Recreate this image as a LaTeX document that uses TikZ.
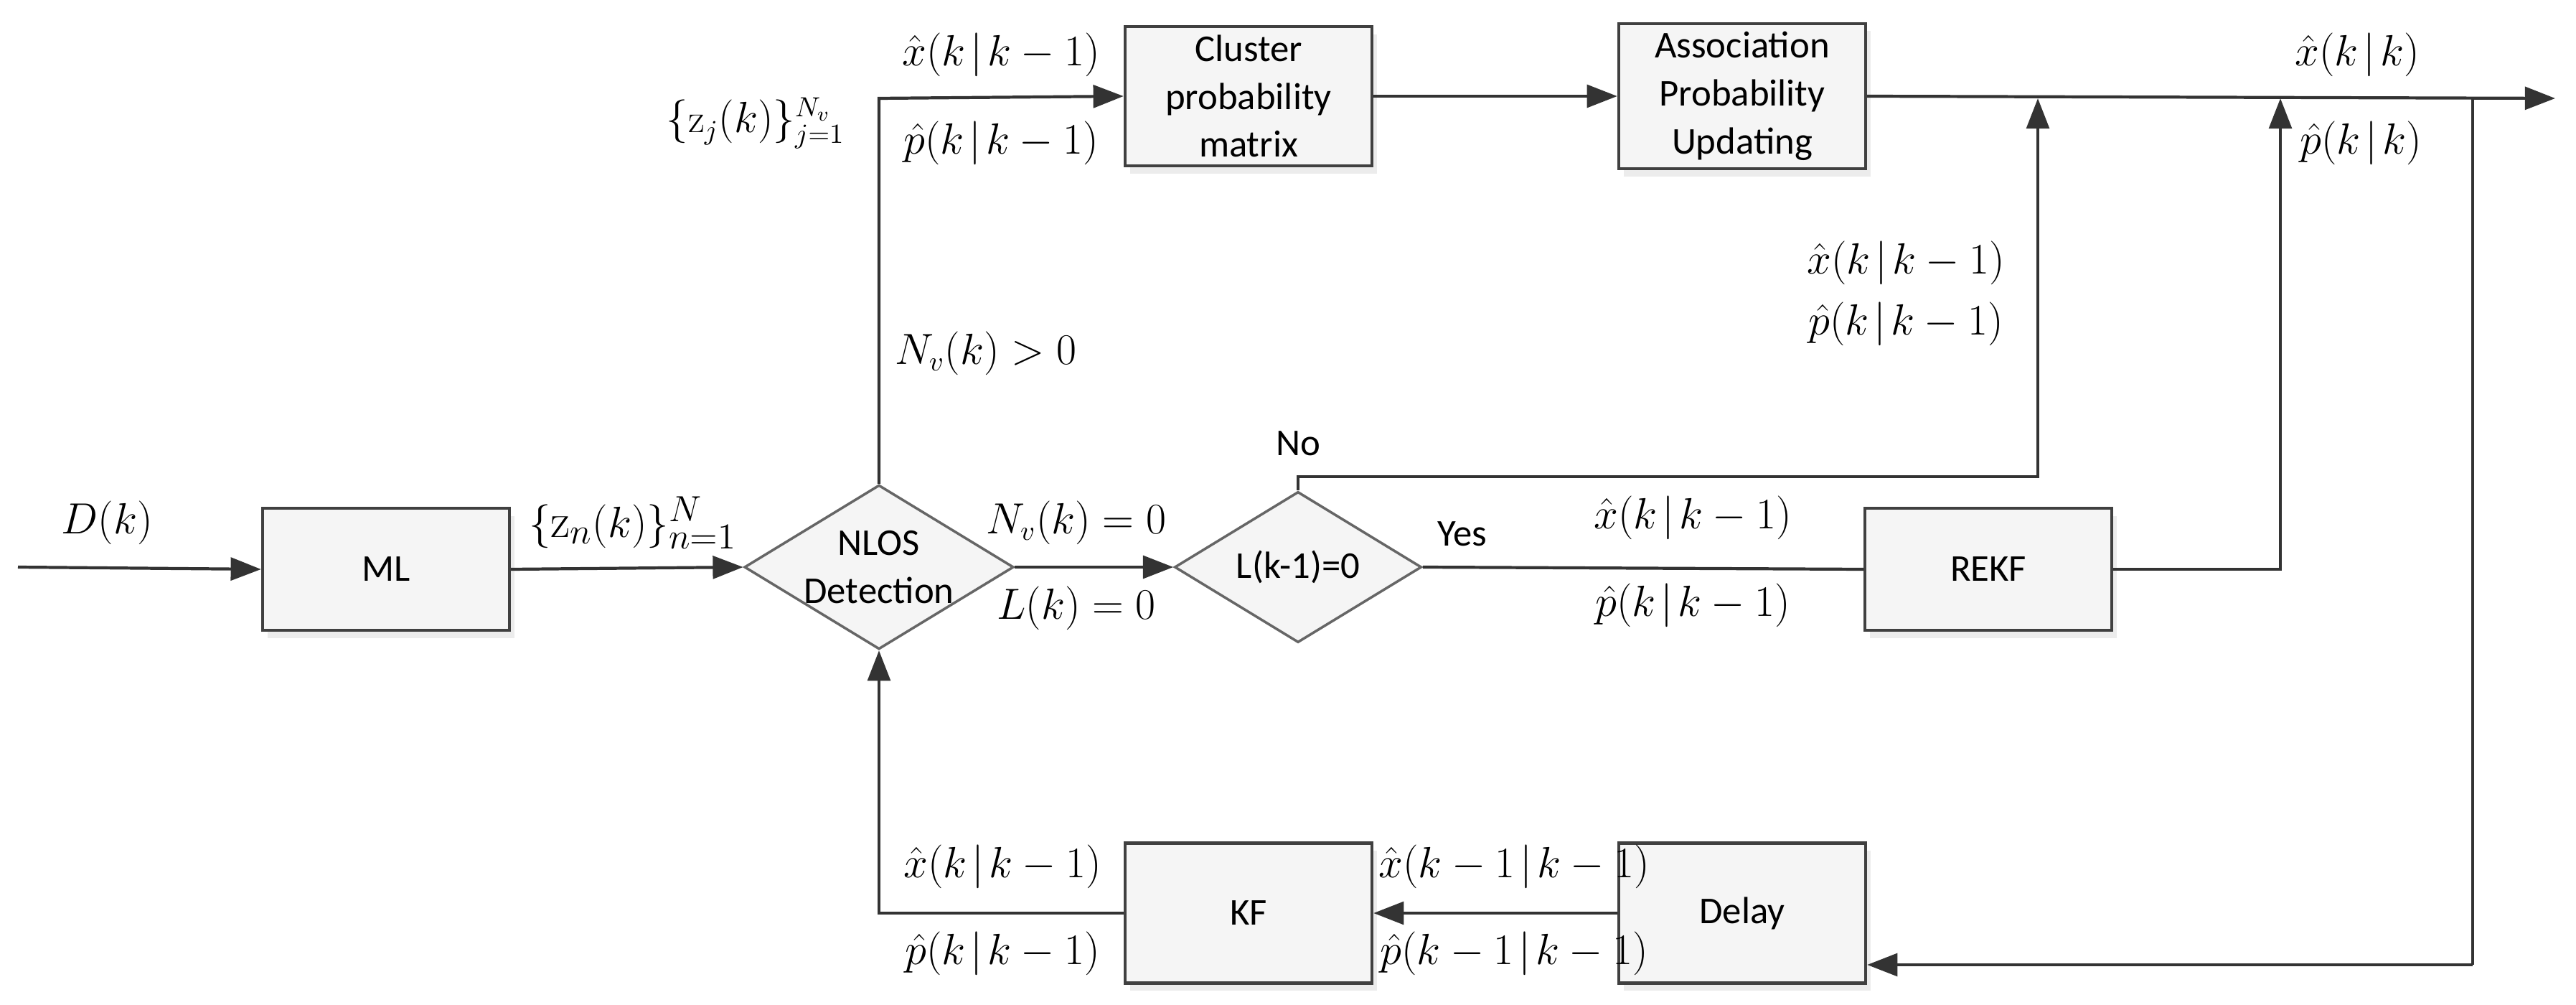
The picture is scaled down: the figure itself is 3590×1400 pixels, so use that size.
\documentclass[tikz,border=0pt]{standalone}
\usepackage{fontspec}
\newfontfamily\boxfont{Carlito}
\usetikzlibrary{shapes.geometric,arrows.meta,shadows}
\newcommand{\cnd}{\!\mid\!}
\begin{document}
\begin{tikzpicture}[x=0.01cm,y=-0.01cm,
  blk/.style={draw=black!75,line width=1.2pt,fill=gray!8,minimum width=3.44cm,minimum height=1.7cm,align=center,font=\boxfont\fontsize{15}{19}\selectfont,drop shadow={shadow xshift=2pt,shadow yshift=-3pt,fill=gray!30}},
  dia/.style={draw=black!60,line width=1pt,fill=gray!8,diamond,minimum width=3.44cm,minimum height=2.1cm,inner sep=0pt,aspect=1.64,align=center,font=\boxfont\fontsize{15}{19}\selectfont},
  ln/.style={draw=black!80,line width=1.2pt},
  ar/.style={ln,-{Triangle[length=12pt,width=9pt]}},
  lb/.style={font=\fontsize{16}{19}\selectfont},
  tx/.style={font=\boxfont\fontsize{15}{19}\selectfont}]
\useasboundingbox (0,0) rectangle (3590,1400);
\node[blk] (ml) at (538,793) {ML};
\node[dia] (nlos) at (1225,790) {NLOS\\Detection};
\node[dia] (lk) at (1809,790) {L(k-1)=0};
\node[blk] (rekf) at (2771,793) {REKF};
\node[blk,minimum height=1.9cm] (cl) at (1740,134) {Cluster\\probability\\matrix};
\node[blk,minimum height=1.9cm] (as) at (2428,134) {Association\\Probability\\Updating};
\node[blk,minimum height=1.95cm] (kf) at (1740,1272) {KF};
\node[blk,minimum height=1.95cm] (de) at (2428,1272) {Delay};
\coordinate (in) at (25,790);
\coordinate (out) at (3561,137);
\coordinate (tl) at (1225,137);
\coordinate (j1) at (2840,137);
\coordinate (j2) at (3178,137);
\coordinate (j3) at (3446,137);
\coordinate (j3b) at (3446,1344);
\coordinate (no) at (1809,664);
\coordinate (kfl) at (1225,1272);
\draw[ar] (in) -- (ml.west);
\draw[ar] (ml.east) -- (nlos.west);
\draw[ar] (nlos.east) -- (lk.west);
\draw[ln] (lk.east) -- (rekf.west);
\draw[ar] (nlos.north) -- (tl) -- (cl.west);
\draw[ar] (cl.east) -- (as.west);
\draw[ar] (as.east) -- (out);
\draw[ar] (lk.north) -- (no) -| (j1);
\draw[ar] (rekf.east) -| (j2);
\draw[ln] (j3) -- (j3b);
\draw[ar] (j3b) -- (de.east |- j3b);
\draw[ar] (de.west) -- (kf.east);
\draw[ar] (kf.west) -- (kfl) -- (nlos.south);
\node[lb,font=\fontsize{19}{22}\selectfont] at (149,728) {$D(k)$};
\node[lb,font=\fontsize{19}{22}\selectfont] at (882,728) {$\{\mathrm{z}_n(k)\}_{n=1}^{N}$};
\node[lb] at (1500,728) {$N_v(k)=0$};
\node[lb,font=\fontsize{19}{22}\selectfont] at (1500,847) {$L(k)=0$};
\node[tx] at (2038,744) {Yes};
\node[tx] at (1809,618) {No};
\node[lb] at (2359,721) {$\hat{x}(k\cnd k-1)$};
\node[lb] at (2359,843) {$\hat{p}(k\cnd k-1)$};
\node[lb] at (2656,366) {$\hat{x}(k\cnd k-1)$};
\node[lb] at (2656,451) {$\hat{p}(k\cnd k-1)$};
\node[lb] at (1374,492) {$N_v(k)>0$};
\node[lb] at (1053,172) {$\{\mathrm{z}_j(k)\}_{j=1}^{N_v}$};
\node[lb] at (1395,76) {$\hat{x}(k\cnd k-1)$};
\node[lb] at (1395,199) {$\hat{p}(k\cnd k-1)$};
\node[lb] at (3285,76) {$\hat{x}(k\cnd k)$};
\node[lb] at (3290,199) {$\hat{p}(k\cnd k)$};
\node[lb] at (1397,1207) {$\hat{x}(k\cnd k-1)$};
\node[lb] at (1397,1328) {$\hat{p}(k\cnd k-1)$};
\node[lb] at (2110,1207) {$\hat{x}(k-1\cnd k-1)$};
\node[lb] at (2110,1328) {$\hat{p}(k-1\cnd k-1)$};
\end{tikzpicture}
\end{document}
